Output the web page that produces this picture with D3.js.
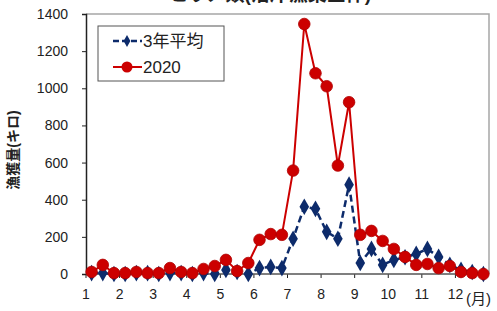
<!DOCTYPE html>
<html>
<head>
<meta charset="utf-8">
<script src="https://cdn.jsdelivr.net/npm/d3@7"></script>
<style>
  body { margin: 0; background: #fff; }
  svg { display: block; font-family: Arial, "Liberation Sans", "Noto Sans CJK JP", sans-serif; }
</style>
</head>
<body>
<div id="chart"></div>
<script>
// 36 periods: each month split into early / mid / late (上旬・中旬・下旬)
var months = [1, 2, 3, 4, 5, 6, 7, 8, 9, 10, 11, 12];
var periods = ["上旬", "中旬", "下旬"];
var categories = [];
months.forEach(function(m) { periods.forEach(function(p) { categories.push(m + "月" + p); }); });

var avg3 = [5, 5, 0, 0, 5, 5, 0, 5, 5, 0, 5, 0,
            22, 11, 0, 32, 38, 32, 190, 362, 351, 227, 190, 481,
            59, 135, 49, 76, 90, 108, 135, 92, 49, 22, 11, 0];
var y2020 = [11, 49, 5, 5, 11, 5, 5, 32, 11, 5, 27, 43,
             76, 16, 59, 184, 215, 211, 557, 1346, 1081, 1011, 584, 925,
             211, 232, 178, 135, 92, 49, 54, 32, 43, 11, 5, 0];
var yTicks = [0, 200, 400, 600, 800, 1000, 1200, 1400];

var W = 497, H = 311;
var pL = 86, pR = 489, pT = 14, pB = 274;

var svg = d3.select("#chart").append("svg").attr("width", W).attr("height", H);

var x = d3.scaleBand().domain(categories).range([pL, pR]);
var y = d3.scaleLinear().domain([0, 1400]).range([pB, pT]);
var cx = function(d, i) { return x(categories[i]) + x.bandwidth() / 2; };

// title (cut off at the top edge)
svg.append("text").attr("x", 270).attr("y", 1).attr("text-anchor", "middle")
  .style("font-size", "19px").style("font-weight", "bold").attr("fill", "#222")
  .text("ヒラメ類(沿岸漁業全体)");

// plot frame
svg.append("path")
  .attr("d", "M" + pL + "," + pT + "H" + pR + "V" + pB)
  .attr("fill", "none").attr("stroke", "#a6a6a6").attr("stroke-width", 1.5);

// y axis
var yAxis = svg.append("g").attr("transform", "translate(" + pL + ",0)")
  .call(d3.axisLeft(y).tickValues(yTicks).tickFormat(d3.format("d")).tickSize(4).tickPadding(14));
yAxis.select(".domain").attr("stroke", "#222").attr("stroke-width", 1.5);
yAxis.selectAll(".tick line").attr("stroke", "#222");
yAxis.selectAll("text").style("font-size", "14px").attr("fill", "#222");

// x axis: ticks and labels on the boundary before each month
var xAxis = svg.append("g").attr("transform", "translate(" + (-x.bandwidth() / 2) + "," + pB + ")")
  .call(d3.axisBottom(x)
    .tickValues(categories.filter(function(c, i) { return i % 3 === 0; }))
    .tickFormat(function(c) { return parseInt(c); })
    .tickSize(4).tickSizeOuter(0).tickPadding(11));
xAxis.select(".domain").remove();
xAxis.selectAll(".tick line").attr("stroke", "#222");
xAxis.selectAll("text").style("font-size", "14px").attr("fill", "#222");
svg.append("line").attr("x1", pL).attr("x2", pR).attr("y1", pB).attr("y2", pB)
  .attr("stroke", "#555").attr("stroke-width", 1.5);
svg.append("text").attr("x", 466).attr("y", 304).style("font-size", "15px").attr("fill", "#222").text("(月)");

// y axis title
svg.append("text").attr("transform", "translate(18,150) rotate(-90)").attr("text-anchor", "middle")
  .style("font-size", "14px").style("font-weight", "bold").attr("fill", "#222")
  .text("漁獲量(キロ)");

var line = d3.line().x(cx).y(function(d) { return y(d); });
var blue = "#0d2b6b", red = "#cc0000";

// 3-year average
svg.append("path").datum(avg3).attr("d", line).attr("fill", "none")
  .attr("stroke", blue).attr("stroke-width", 2.5).attr("stroke-dasharray", "7,4");
var diamond = d3.symbol().type(d3.symbolDiamond).size(80);
svg.append("g").selectAll("path").data(avg3).enter().append("path")
  .attr("d", diamond)
  .attr("transform", function(d, i) { return "translate(" + cx(d, i) + "," + y(d) + ")"; })
  .attr("fill", blue);

// 2020
svg.append("path").datum(y2020).attr("d", line).attr("fill", "none")
  .attr("stroke", red).attr("stroke-width", 2);
svg.append("g").selectAll("circle").data(y2020).enter().append("circle")
  .attr("cx", cx).attr("cy", function(d) { return y(d); }).attr("r", 5.8)
  .attr("fill", red).attr("stroke", "#b00000").attr("stroke-width", 0.8);

// legend
var lg = svg.append("g");
lg.append("rect").attr("x", 98).attr("y", 26).attr("width", 126).attr("height", 55)
  .attr("fill", "#fff").attr("stroke", "#555").attr("stroke-width", 1);
lg.append("line").attr("x1", 113).attr("x2", 142).attr("y1", 41).attr("y2", 41)
  .attr("stroke", blue).attr("stroke-width", 2.5).attr("stroke-dasharray", "6,3");
lg.append("path").attr("d", d3.symbol().type(d3.symbolDiamond).size(40))
  .attr("transform", "translate(127,41)").attr("fill", blue);
lg.append("text").attr("x", 143).attr("y", 47).style("font-size", "17px").attr("fill", "#222").text("3年平均");
lg.append("line").attr("x1", 113).attr("x2", 142).attr("y1", 67).attr("y2", 67)
  .attr("stroke", red).attr("stroke-width", 2);
lg.append("circle").attr("cx", 127).attr("cy", 67).attr("r", 5.5).attr("fill", red);
lg.append("text").attr("x", 143).attr("y", 73).style("font-size", "17px").attr("fill", "#222").text("2020");
</script>
</body>
</html>
